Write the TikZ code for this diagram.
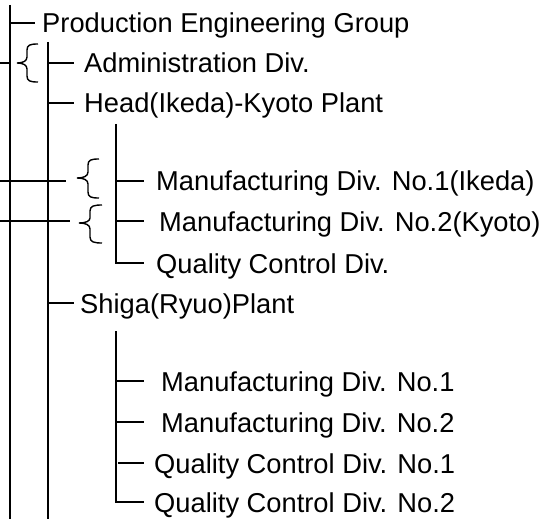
\documentclass[tikz,border=0pt]{standalone}
\usepackage{fontspec}
\setmainfont{Liberation Sans}
\begin{document}
\begin{tikzpicture}[x=1pt,y=-1pt,
  ln/.style={line width=1.6pt,line cap=butt},
  br/.style={line width=1.4pt},
  lbl/.style={anchor=base west,inner sep=0pt,font=\fontsize{27.3}{31}\selectfont}]
\useasboundingbox (0,0) rectangle (558,519);
% named coordinates for the tree
\coordinate (v1t) at (10,5);   \coordinate (v1b) at (10,519);
\coordinate (v2t) at (48,42);  \coordinate (v2b) at (48,519);
\coordinate (v3t) at (116,124);\coordinate (v3b) at (116,263);
\coordinate (v4t) at (116,331);\coordinate (v4b) at (116,502);
% vertical lines
\draw[ln] (v1t) -- (v1b);
\draw[ln] (v2t) -- (v2b);
\draw[ln] (v3t) -- (v3b) -- (144,263);
\draw[ln] (v4t) -- (v4b) -- (144,502);
% labels
\node[lbl] (peg) at (42,33) {Production Engineering Group};
\node[lbl] (adm) at (84,73) {Administration Div.};
\node[lbl] (hkp) at (84,113) {Head(Ikeda)-Kyoto Plant};
\node[lbl] (md1) at (156,191) {Manufacturing Div. No.1(Ikeda)};
\node[lbl] (md2) at (159,231) {Manufacturing Div. No.2(Kyoto)};
\node[lbl] (qcd) at (156,273) {Quality Control Div.};
\node[lbl] (srp) at (80,313) {Shiga(Ryuo)Plant};
\node[lbl] (sm1) at (161,391) {Manufacturing Div. No.1};
\node[lbl] (sm2) at (161,432) {Manufacturing Div. No.2};
\node[lbl] (sq1) at (154,473) {Quality Control Div. No.1};
\node[lbl] (sq2) at (154,512) {Quality Control Div. No.2};
% ticks
\draw[ln] (10,23) -- (35,23);
\draw[ln] (0,63) -- (10,63);
\draw[ln] (48,63) -- (74,63);
\draw[ln] (48,103) -- (74,103);
\draw[ln] (0,181) -- (66,181);
\draw[ln] (0,221) -- (70,221);
\draw[ln] (116,181) -- (144,181);
\draw[ln] (116,221) -- (144,221);
\draw[ln] (48,303) -- (74,303);
\draw[ln] (116,381) -- (144,381);
\draw[ln] (116,422) -- (144,422);
\draw[ln] (118,463) -- (144,463);
% braces
\draw[br] (38,44) .. controls (30,44) and (27,45) .. (27,50) -- (27,57)
  .. controls (27,61) and (23,63) .. (17,63)
  .. controls (23,63) and (27,65) .. (27,69) -- (27,76)
  .. controls (27,81) and (30,82) .. (38,82);
\draw[br] (99,159) .. controls (91,159) and (88,160) .. (88,165) -- (88,172)
  .. controls (88,176) and (84,178) .. (77,178)
  .. controls (84,178) and (88,180) .. (88,184) -- (88,192)
  .. controls (88,197) and (91,198) .. (99,198);
\draw[br] (102,205) .. controls (94,205) and (90,206) .. (90,211) -- (90,218)
  .. controls (90,221) and (86,223) .. (79,223)
  .. controls (86,223) and (90,225) .. (90,229) -- (90,237)
  .. controls (90,242) and (94,243) .. (102,243);
\end{tikzpicture}
\end{document}
